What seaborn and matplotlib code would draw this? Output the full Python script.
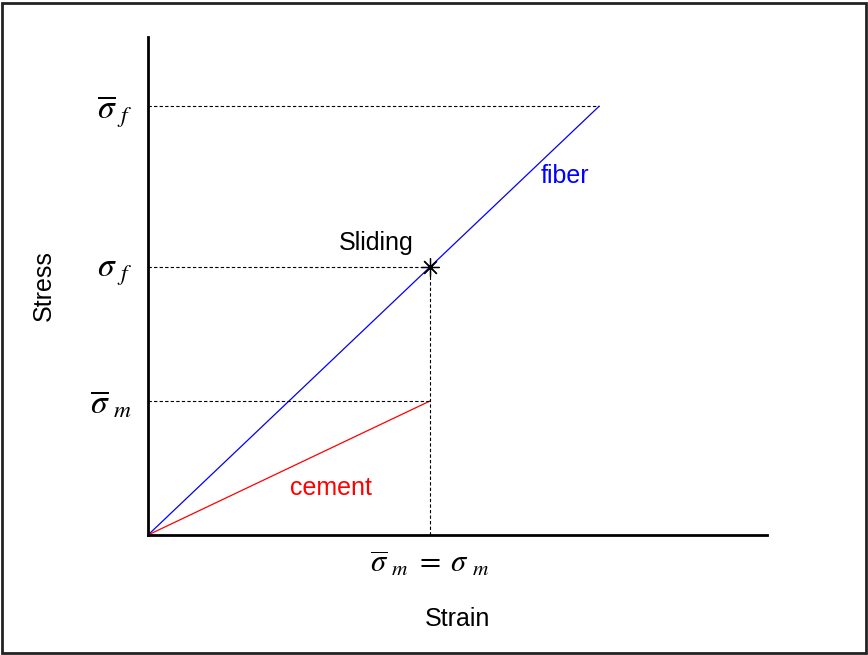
import matplotlib
matplotlib.use("Agg")
import matplotlib.pyplot as plt
import seaborn as sns
import pandas as pd
from matplotlib.patches import Rectangle

# Strain / stress in normalised units (sliding point = 1, 1)
fiber_strain = [0.0, 1.6]
fiber_stress = [0.0, 1.6]
cement_strain = [0.0, 1.0]
cement_stress = [0.0, 0.5]
sliding_point = (1.0, 1.0)

y_ticks = [0.5, 1.0, 1.6]
y_tick_labels = [r"$\overline{\sigma}\;_{m}$", r"$\sigma\;_{f}$", r"$\overline{\sigma}\;_{f}$"]
x_ticks = [1.0]
x_tick_labels = [r"$\overline{\sigma}\;_{m}\; =\; \sigma\;_{m}$"]

sns.set_style("white")
plt.rcParams["font.family"] = ["Liberation Sans", "DejaVu Sans"]
plt.rcParams["mathtext.fontset"] = "stix"
plt.rcParams["text.color"] = "black"
plt.rcParams["axes.labelcolor"] = "black"
plt.rcParams["xtick.color"] = "black"
plt.rcParams["ytick.color"] = "black"

fig = plt.figure(figsize=(8.68, 6.55), dpi=100)
ax = fig.add_axes([148 / 868, 1 - 535 / 655, (767 - 148) / 868, (535 - 37) / 655])

fiber = pd.DataFrame({"strain": fiber_strain, "stress": fiber_stress})
cement = pd.DataFrame({"strain": cement_strain, "stress": cement_stress})
sns.lineplot(data=fiber, x="strain", y="stress", color="#0000ff", lw=0.9, ax=ax)
sns.lineplot(data=cement, x="strain", y="stress", color="#ff0000", lw=0.9, ax=ax)

# reference guides
dash = dict(color="black", lw=0.8, ls=(0, (3, 2)))
ax.plot([0, fiber_strain[1]], [fiber_stress[1]] * 2, **dash)
ax.plot([0, sliding_point[0]], [sliding_point[1]] * 2, **dash)
ax.plot([0, cement_strain[1]], [cement_stress[1]] * 2, **dash)
ax.plot([sliding_point[0]] * 2, [0, sliding_point[1]], **dash)

ax.plot(*sliding_point, marker=(8, 2, 0), ms=13, mec="black", mew=0.9, color="black")

ax.text(0.81, 1.09, "Sliding", fontsize=18, ha="center", va="center")
ax.text(1.48, 1.34, "fiber", fontsize=18, ha="center", va="center", color="#0000ff")
ax.text(0.65, 0.175, "cement", fontsize=18, ha="center", va="center", color="#ff0000")

ax.set_xlim(0, 2.195)
ax.set_ylim(0, 1.858)
ax.set_yticks(y_ticks)
ax.set_yticklabels(y_tick_labels, fontsize=24)
ax.set_xticks(x_ticks)
ax.set_xticklabels(x_tick_labels, fontsize=22)
ax.tick_params(length=0, pad=11)
ax.tick_params(axis="x", pad=10)

ax.set_xlabel("Strain", fontsize=18, labelpad=20)
ax.set_ylabel("Stress", fontsize=18, labelpad=25)

sns.despine(ax=ax)
for s in ["left", "bottom"]:
    ax.spines[s].set_linewidth(2)
    ax.spines[s].set_color("black")

fig.patches.append(Rectangle((1.5 / 868, 2.5 / 655), 864 / 868, 650 / 655,
                             transform=fig.transFigure, fill=False,
                             edgecolor="#222222", lw=2))

fig.savefig("out.png", dpi=100)
